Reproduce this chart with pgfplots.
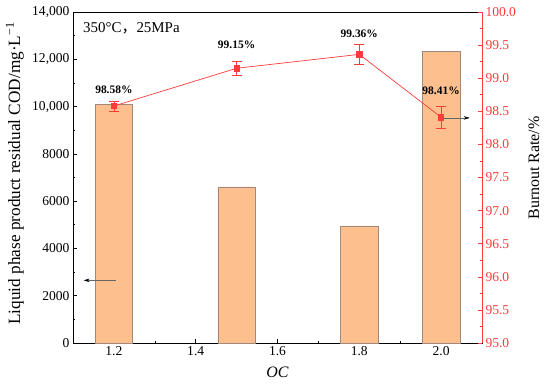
\documentclass[border=0pt]{standalone}
\usepackage{pgfplots}
\pgfplotsset{compat=1.18}
\usepackage{fontspec}
\setmainfont{Liberation Serif}
\newfontfamily\cjk{Noto Sans CJK SC}
\usetikzlibrary{arrows.meta}
\definecolor{barfill}{RGB}{253,191,142}
\definecolor{bardraw}{RGB}{160,136,122}
\definecolor{myred}{RGB}{255,59,59}
\begin{document}
\begin{tikzpicture}[x=1bp,y=1bp]
\begin{axis}[
  at={(0,0)}, anchor=south west,
  scale only axis, width=409bp, height=331bp,
  xmin=1.1, xmax=2.1, ymin=0, ymax=14000,
  scaled y ticks=false,
  xtick={1.2,1.4,1.6,1.8,2.0}, minor x tick num=1,
  ytick={0,2000,4000,6000,8000,10000,12000,14000},
  yticklabels={0,2000,4000,6000,8000,{10,000},{12,000},{14,000}},
  minor y tick num=1,
  xtick pos=bottom, ytick pos=left, tick align=inside,
  major tick length=4bp, minor tick length=2.5bp,
  x tick label style={/pgf/number format/.cd, fixed, fixed zerofill, precision=1},
  /pgf/number format/assume math mode=true,
  tick label style={font=\fontsize{13.6}{15}\selectfont},
  label style={font=\fontsize{16}{18}\selectfont},
  xlabel={\textit{OC}},
  ylabel={Liquid phase product residual COD/mg\textperiodcentered L\textsuperscript{\char"2212 1}},
  xlabel style={at={(axis description cs:0.5,-0.09)}, anchor=center},
  ylabel style={at={(axis description cs:-0.142,0.512)}, anchor=center, font=\fontsize{17.3}{19}\selectfont},
  axis line style={line width=0.8pt},
  every tick/.style={black, line width=0.6pt},
  clip=false,
]
\addplot[ybar, bar width=0.092, fill=barfill, draw=bardraw, line width=0.5pt] coordinates {
 (1.2,10100) (1.5,6600) (1.8,4950) (2.0,12330)};
\node[anchor=north west, font=\fontsize{15}{17}\selectfont, inner sep=0pt] at (axis cs:1.1,14000) [xshift=10bp, yshift=-10bp] {350°C{\cjk ，}25MPa};
\draw[draw=gray!80!black, line width=0.5pt, -{Stealth[length=6bp, width=3.5bp, black]}] (axis cs:1.204,2650) -- (axis cs:1.126,2650);
\end{axis}
\begin{axis}[
  at={(0,0)}, anchor=south west,
  scale only axis, width=409bp, height=331bp,
  xmin=1.1, xmax=2.1, ymin=95, ymax=100,
  axis y line*=right, axis x line=none,
  ytick={95,95.5,...,100}, minor y tick num=1,
  tick align=inside,
  major tick length=4bp, minor tick length=2.5bp,
  y tick label style={/pgf/number format/.cd, fixed, fixed zerofill, precision=1},
  /pgf/number format/assume math mode=true,
  tick label style={font=\fontsize{13.6}{15}\selectfont, text=myred},
  y axis line style={draw=myred, line width=0.8pt},
  every tick/.style={myred, line width=0.6pt},
  ylabel={Burnout Rate/\%},
  label style={font=\fontsize{16}{18}\selectfont},
  ylabel style={text=black, at={(axis description cs:1.127,0.529)}, anchor=center},
  clip=false,
]
\addplot[myred, line width=0.7pt, mark=square*, mark size=2.7bp, mark options={fill=myred, draw=myred},
  error bars/.cd, y dir=both, y explicit,
  error bar style={myred, line width=0.7pt},
  error mark options={rotate=90, myred, mark size=5bp, line width=0.7pt}]
  coordinates {
 (1.2,98.58) +- (0,0.075)
 (1.5,99.15) +- (0,0.105)
 (1.8,99.36) +- (0,0.15)
 (2.0,98.41) +- (0,0.17)};
\draw[draw=gray!80!black, line width=0.5pt, -{Stealth[length=6bp, width=3.5bp, black]}] (axis cs:2.0,98.40) -- (axis cs:2.07,98.40);
\begin{scope}[font=\bfseries\fontsize{11.5}{13}\selectfont]
\node at (axis cs:1.2,98.58) [yshift=16bp] {98.58\%};
\node at (axis cs:1.5,99.15) [yshift=23bp] {99.15\%};
\node at (axis cs:1.8,99.36) [yshift=21bp] {99.36\%};
\node at (axis cs:2.0,98.41) [yshift=26bp] {98.41\%};
\end{scope}
\end{axis}
\pgfresetboundingbox
\path[use as bounding box] (-73bp,-42bp) rectangle (477bp,343bp);
\end{tikzpicture}
\end{document}
